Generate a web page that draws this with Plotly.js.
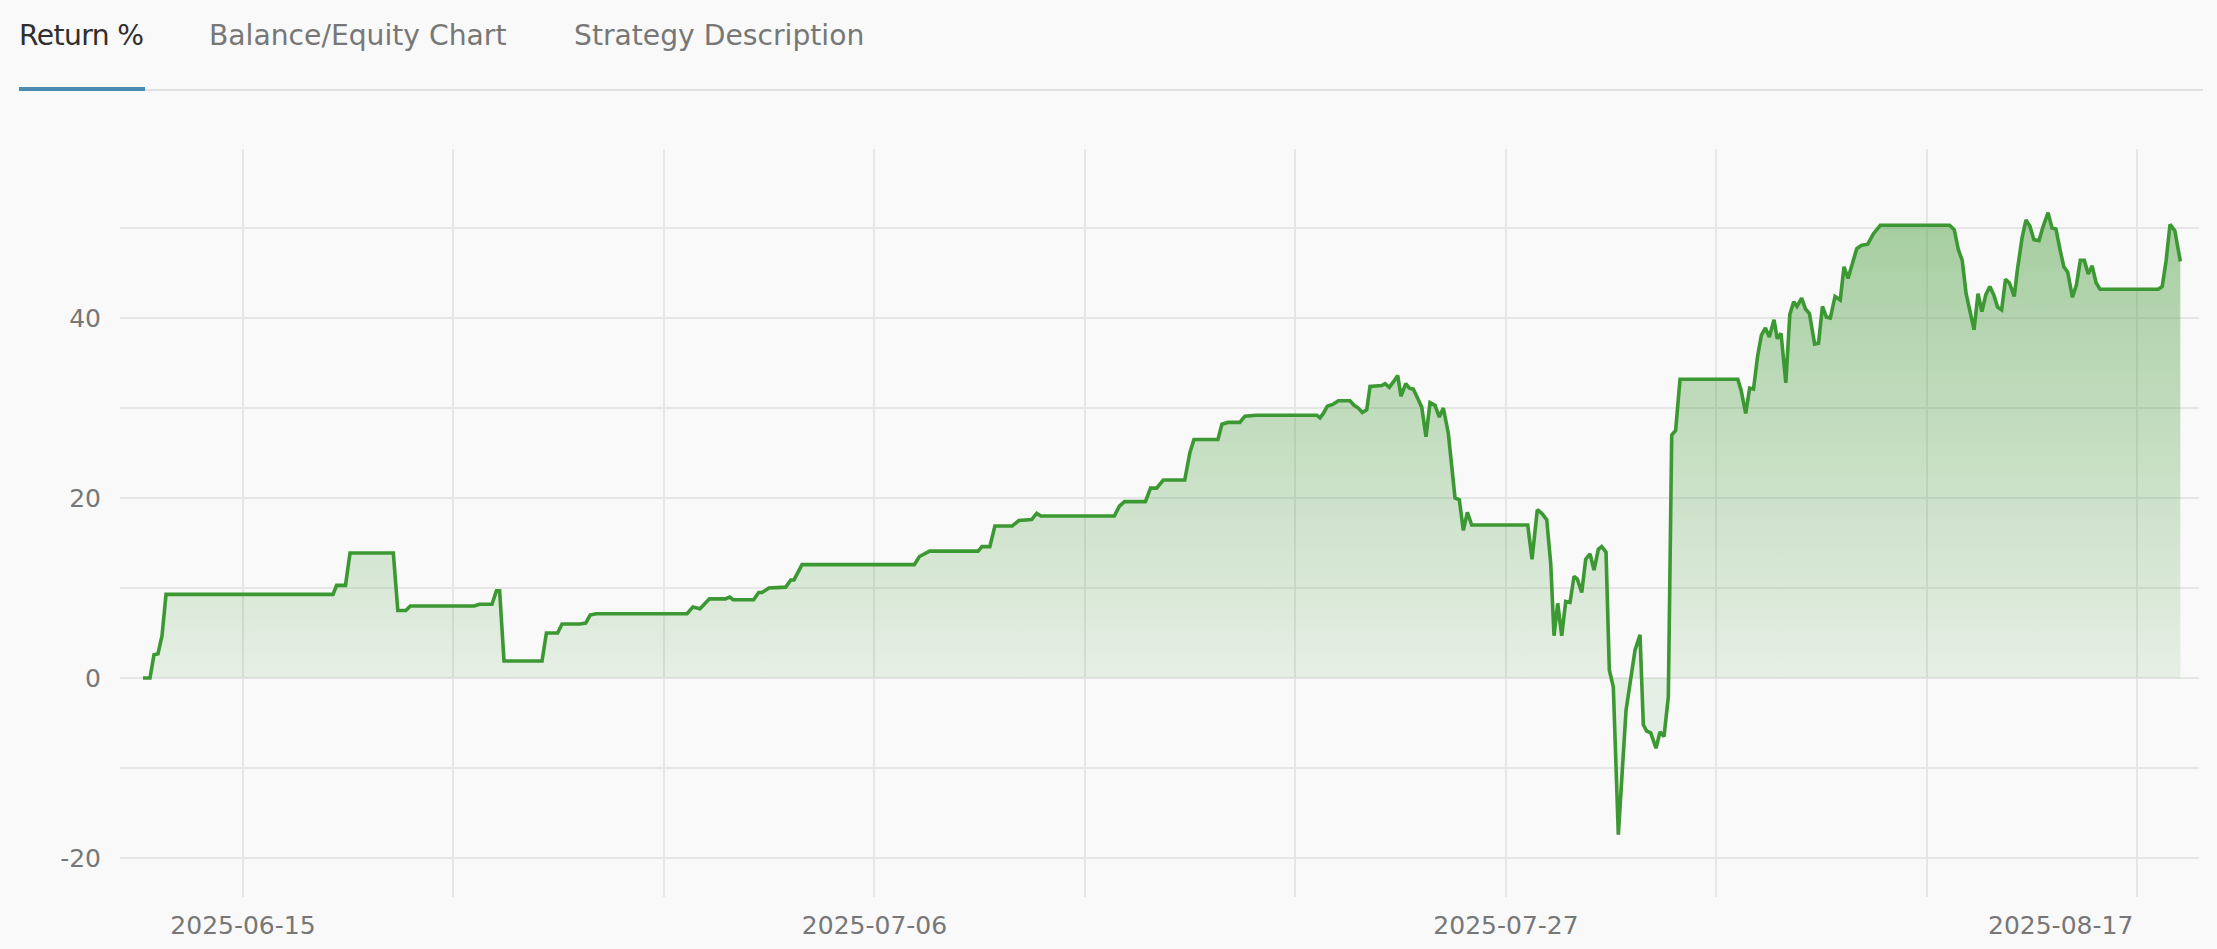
<!DOCTYPE html>
<html>
<head>
<meta charset="utf-8">
<script src="https://cdn.plot.ly/plotly-3.0.1.min.js"></script>
<style>
html,body{margin:0;padding:0;background:#f9f9f9;width:2217px;height:949px;overflow:hidden;font-family:"DejaVu Sans",Roboto,sans-serif}
#chart{position:absolute;left:0;top:0;width:2217px;height:949px}
.tab{position:absolute;top:22px;font-size:28.2px;line-height:28px;color:#777;white-space:nowrap;z-index:2}
.tab.active{color:#2f2f2f}
#tabline{position:absolute;left:145px;top:89px;width:2058px;height:2px;background:#e1e1e1;z-index:2}
#tabactive{position:absolute;left:19px;top:87px;width:126px;height:4px;background:#4a8bb1;z-index:3}
</style>
</head>
<body>
<div id="chart"></div>
<div class="tab active" style="left:19px;letter-spacing:-0.6px">Return %</div>
<div class="tab" style="left:209px">Balance/Equity Chart</div>
<div class="tab" style="left:574px">Strategy Description</div>
<div id="tabline"></div>
<div id="tabactive"></div>
<script>
// Return % series (timestamps and values)
const dates = [
'2025-06-11 16:14','2025-06-11 21:48','2025-06-12 01:00','2025-06-12 04:12','2025-06-12 07:24','2025-06-12 10:36',
'2025-06-17 23:52','2025-06-18 02:44','2025-06-18 09:50','2025-06-18 13:26','2025-06-20 00:00','2025-06-20 03:35',
'2025-06-20 09:58','2025-06-20 13:34','2025-06-22 16:29','2025-06-22 20:47','2025-06-23 06:46','2025-06-23 10:17',
'2025-06-23 12:50','2025-06-23 16:20','2025-06-24 22:40','2025-06-25 02:11','2025-06-25 11:07','2025-06-25 14:38',
'2025-06-26 05:00','2025-06-26 09:33','2025-06-26 13:08','2025-06-26 17:48','2025-06-29 18:23','2025-06-29 23:06',
'2025-06-30 04:46','2025-06-30 12:17','2025-07-01 01:07','2025-07-01 04:23','2025-07-01 07:16','2025-07-01 23:33',
'2025-07-02 03:37','2025-07-02 06:15','2025-07-02 11:46','2025-07-03 01:10','2025-07-03 05:14','2025-07-03 07:47',
'2025-07-03 14:11','2025-07-07 07:48','2025-07-07 11:52','2025-07-07 20:01','2025-07-09 10:38','2025-07-09 13:50',
'2025-07-09 20:04','2025-07-10 00:08','2025-07-10 13:56','2025-07-10 19:17','2025-07-11 05:25','2025-07-11 09:29',
'2025-07-11 12:46','2025-07-13 23:25','2025-07-14 03:29','2025-07-14 07:34','2025-07-15 00:14','2025-07-15 04:19',
'2025-07-15 09:11','2025-07-15 14:32','2025-07-16 07:37','2025-07-16 11:41','2025-07-16 14:57','2025-07-17 10:07',
'2025-07-17 13:18','2025-07-17 18:10','2025-07-18 03:35','2025-07-18 07:40','2025-07-18 16:35','2025-07-20 16:58',
'2025-07-20 19:35','2025-07-20 22:14','2025-07-21 01:25','2025-07-21 05:44','2025-07-21 10:12','2025-07-21 19:32',
'2025-07-21 22:44','2025-07-22 02:10','2025-07-22 05:21','2025-07-22 08:52','2025-07-22 11:30','2025-07-22 20:50',
'2025-07-22 23:28','2025-07-23 02:54','2025-07-23 06:05','2025-07-23 09:36','2025-07-23 12:14','2025-07-23 15:59',
'2025-07-23 18:52','2025-07-23 22:03','2025-07-24 00:46','2025-07-24 04:46','2025-07-24 08:11','2025-07-24 11:23',
'2025-07-24 15:22','2025-07-24 18:49','2025-07-24 22:00','2025-07-25 01:59','2025-07-25 07:20','2025-07-25 10:46',
'2025-07-25 13:58','2025-07-25 17:09','2025-07-25 20:40','2025-07-27 17:22','2025-07-27 20:47','2025-07-28 01:01',
'2025-07-28 04:32','2025-07-28 08:31','2025-07-28 11:43','2025-07-28 14:21','2025-07-28 17:18','2025-07-28 20:29',
'2025-07-28 23:41','2025-07-29 03:07','2025-07-29 06:19','2025-07-29 08:56','2025-07-29 12:27','2025-07-29 15:39',
'2025-07-29 19:05','2025-07-29 22:16','2025-07-30 01:42','2025-07-30 04:25','2025-07-30 07:51','2025-07-30 10:29',
'2025-07-30 13:40','2025-07-30 17:40','2025-07-30 23:49','2025-07-31 06:59','2025-07-31 10:59','2025-07-31 13:37',
'2025-07-31 16:20','2025-07-31 19:31','2025-07-31 23:45','2025-08-01 02:57','2025-08-01 06:08','2025-08-01 09:34',
'2025-08-01 12:17','2025-08-01 15:24','2025-08-01 18:55','2025-08-03 17:02','2025-08-03 19:35','2025-08-03 23:20',
'2025-08-04 02:28','2025-08-04 05:34','2025-08-04 08:46','2025-08-04 11:52','2025-08-04 15:04','2025-08-04 18:11',
'2025-08-04 21:56','2025-08-05 00:29','2025-08-05 03:31','2025-08-05 07:21','2025-08-05 10:32','2025-08-05 13:39',
'2025-08-05 16:12','2025-08-05 19:58','2025-08-05 23:04','2025-08-06 02:11','2025-08-06 06:20','2025-08-06 09:27',
'2025-08-06 12:34','2025-08-06 15:45','2025-08-06 18:52','2025-08-06 22:37','2025-08-07 02:46','2025-08-07 05:48',
'2025-08-07 08:59','2025-08-07 12:49','2025-08-07 15:56','2025-08-07 20:00','2025-08-08 00:43','2025-08-08 05:25',
'2025-08-08 10:46','2025-08-10 18:05','2025-08-10 21:50','2025-08-11 01:01','2025-08-11 04:08','2025-08-11 07:14',
'2025-08-11 13:33','2025-08-11 16:44','2025-08-11 19:51','2025-08-11 22:58','2025-08-12 02:10','2025-08-12 05:16',
'2025-08-12 08:23','2025-08-12 11:35','2025-08-12 14:41','2025-08-12 17:48','2025-08-12 21:38','2025-08-13 00:07',
'2025-08-13 03:52','2025-08-13 07:03','2025-08-13 10:10','2025-08-13 13:21','2025-08-13 17:26','2025-08-13 20:32',
'2025-08-14 00:37','2025-08-14 03:48','2025-08-14 06:55','2025-08-14 10:02','2025-08-14 13:13','2025-08-14 16:20',
'2025-08-14 20:05','2025-08-14 23:17','2025-08-15 02:23','2025-08-15 05:35','2025-08-15 08:41','2025-08-15 11:49',
'2025-08-15 15:00','2025-08-15 18:07','2025-08-17 16:38','2025-08-17 19:45','2025-08-17 22:52','2025-08-18 01:59',
'2025-08-18 05:49','2025-08-18 10:12'
];
const returnPct = [
0,0,2.6,2.7,4.7,9.3,
9.3,10.3,10.3,13.9,13.9,7.5,
7.5,8.0,8.0,8.2,8.2,9.7,
9.7,1.9,1.9,5.0,5.0,6.0,
6.0,6.1,7.0,7.15,7.15,7.9,
7.7,8.8,8.8,9.0,8.7,8.7,
9.5,9.5,10.0,10.1,10.9,10.9,
12.6,12.6,13.5,14.1,14.1,14.6,
14.6,16.9,16.9,17.5,17.6,18.3,
18.0,18.0,19.1,19.6,19.6,21.1,
21.1,22.0,22.0,25.0,26.5,26.5,
28.2,28.4,28.4,29.1,29.2,29.2,
28.9,29.4,30.2,30.4,30.8,30.8,
30.3,30.0,29.5,29.8,32.4,32.5,
32.7,32.3,32.9,33.6,31.3,32.7,
32.2,32.1,31.3,30.1,26.8,30.6,
30.3,29.0,30.0,27.2,20.0,19.8,
16.4,18.4,17.0,17.0,13.2,18.7,
18.3,17.6,12.7,4.7,8.3,4.7,
8.5,8.4,11.3,11.0,9.5,13.2,
13.8,12.0,14.3,14.6,14.0,0.9,
-1.0,-17.4,-3.6,3.1,4.8,-5.2,
-5.9,-6.1,-7.8,-6.0,-6.5,-2.1,
27.0,27.5,33.2,33.2,32.0,29.4,
32.2,32.1,35.7,38.1,38.9,37.9,
39.8,37.7,38.3,32.8,40.4,41.8,
41.3,42.2,41.0,40.5,37.1,37.2,
41.3,40.1,40.0,42.4,42.0,45.7,
44.4,46.3,47.7,48.1,48.2,49.4,
50.3,50.3,49.8,47.6,46.4,42.7,
38.7,42.7,40.7,42.6,43.5,42.6,
41.2,40.9,44.3,43.9,42.4,45.3,
48.9,50.9,50.2,48.7,48.6,50.1,
51.7,50.0,49.9,47.7,45.7,45.1,
42.3,43.7,46.4,46.4,44.9,45.8,
43.9,43.2,43.2,43.5,46.4,50.4,
49.7,46.3
];

// Axis ticks (gridlines weekly / every 10 %, labels sparser)
const xTickVals = ['2025-06-15','2025-06-22','2025-06-29','2025-07-06','2025-07-13','2025-07-20','2025-07-27','2025-08-03','2025-08-10','2025-08-17'];
const xTickText = ['2025-06-15','','','2025-07-06','','','2025-07-27','','','2025-08-17'];
const yTickVals = [-20,-10,0,10,20,30,40,50];
const yTickText = ['-20','','0','','20','','40',''];

// the last date label is kept inside the plot edge (drawn as an annotation)
const lastIdx = xTickVals.length - 1;
const shownTickText = xTickText.map((t, i) => i === lastIdx ? '' : t);

const trace = {
  type:'scatter', mode:'lines', x:dates, y:returnPct,
  line:{color:'#3c9832', width:3.6, shape:'linear'},
  fill:'tozeroy',
  fillcolor:'rgba(61,150,48,0.3)',
  fillgradient:{type:'vertical', start:0, stop:52,
    colorscale:[[0,'rgba(61,150,48,0.10)'],[1,'rgba(61,150,48,0.45)']]},
  hoverinfo:'skip'
};

const tickFont = {family:'"DejaVu Sans", Roboto, sans-serif', size:25, color:'#777777'};
const layout = {
  width:2217, height:949,
  paper_bgcolor:'#f9f9f9', plot_bgcolor:'#f9f9f9',
  margin:{l:120, r:18, t:149, b:52, pad:0},
  showlegend:false,
  xaxis:{type:'date', range:['2025-06-10 21:52','2025-08-19 01:06'],
    tickmode:'array', tickvals:xTickVals, ticktext:shownTickText,
    showgrid:true, gridcolor:'#e6e6e6', gridwidth:2,
    zeroline:false, showline:false, ticks:'', tickfont:tickFont,
    ticklabelstandoff:11, fixedrange:true},
  yaxis:{range:[-24.33,58.78],
    tickmode:'array', tickvals:yTickVals, ticktext:yTickText,
    showgrid:true, gridcolor:'#e6e6e6', gridwidth:2,
    zeroline:false, showline:false, ticks:'', tickfont:tickFont,
    ticklabelstandoff:18, fixedrange:true},
  annotations:[{
    x:xTickVals[lastIdx], xref:'x', y:0, yref:'paper',
    text:xTickText[lastIdx], showarrow:false,
    xanchor:'right', yanchor:'middle', xshift:-2, yshift:-28,
    font:tickFont
  }]
};

Plotly.newPlot('chart', [trace], layout, {displayModeBar:false, staticPlot:true});
</script>
</body>
</html>
